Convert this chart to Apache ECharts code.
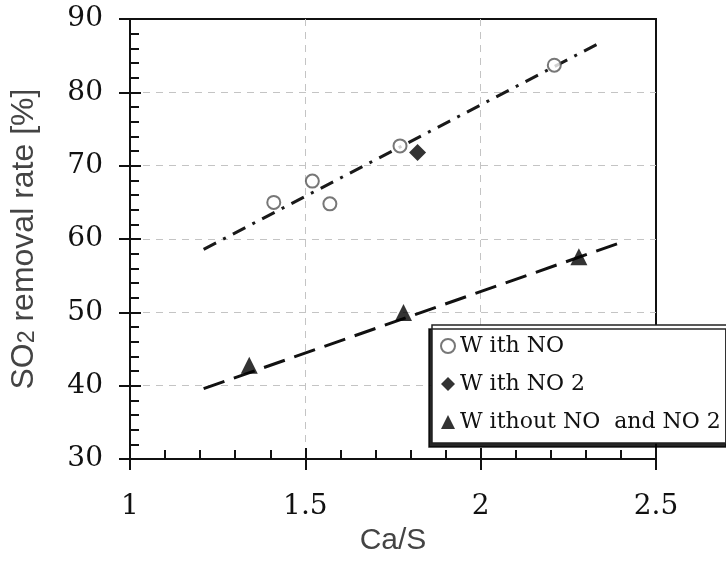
<!DOCTYPE html>
<html>
<head>
<meta charset="utf-8">
<script src="https://cdn.jsdelivr.net/npm/echarts@6/dist/echarts.min.js"></script>
<style>
  html, body { margin: 0; padding: 0; background: #fff; }
  #chart { width: 726px; height: 561px; }
</style>
</head>
<body>
<div id="chart"></div>
<script>
// values
const withNoX = [1.41, 1.52, 1.57, 1.77, 2.21];
const withNoY = [65.0, 67.9, 64.8, 72.7, 83.7];
const withNo2X = [1.82];
const withNo2Y = [71.8];
const withoutX = [1.34, 1.78, 2.28];
const withoutY = [42.8, 50.0, 57.6];
// trend line end points
const fitUpperX = [1.21, 2.35];
const fitUpperY = [58.6, 87.0];
const fitLowerX = [1.21, 2.41];
const fitLowerY = [39.6, 59.7];
const legendNames = ["W ith NO", "W ith NO 2", "W ithout NO  and NO 2"];

const pairs = (xs, ys) => xs.map((x, i) => [x, ys[i]]);

const serif = "DejaVu Serif";
const sans = "Liberation Sans";

const baseX = { type: "value", min: 1, max: 2.5, interval: 0.5, position: "bottom" };
const baseY = { type: "value", min: 30, max: 90, interval: 10, position: "left" };
const axisLine = { show: true, onZero: false, lineStyle: { color: "#111", width: 2 } };
const grid = {
  show: true,
  showMinLine: false,
  showMaxLine: false,
  lineStyle: { color: "#c4c4c4", width: 1, type: [7, 6] }
};

const option = {
  backgroundColor: "#fff",
  animation: false,
  grid: {
    left: 128,
    right: 70,
    top: 19,
    bottom: 97,
    show: true,
    borderColor: "#111",
    borderWidth: 2
  },
  legend: {
    orient: "vertical",
    left: 432,
    top: 325,
    data: legendNames,
    itemWidth: 14,
    itemHeight: 14,
    itemGap: 12,
    padding: [8, 8, 8, 8],
    backgroundColor: "#fff",
    borderColor: "#222",
    borderWidth: 1.5,
    borderRadius: 0,
    shadowColor: "rgba(0,0,0,0.85)",
    shadowBlur: 0,
    shadowOffsetX: -3,
    shadowOffsetY: 4,
    textStyle: {
      fontFamily: serif,
      fontSize: 22,
      lineHeight: 26,
      color: "#111"
    }
  },
  xAxis: [
    Object.assign({}, baseX, {
      name: "Ca/S",
      nameLocation: "middle",
      nameGap: 66,
      nameTextStyle: { fontFamily: sans, fontSize: 30, color: "#444" },
      axisLine: axisLine,
      axisTick: { show: true, inside: false, length: 11, lineStyle: { color: "#111", width: 2 } },
      axisLabel: { margin: 34, fontFamily: serif, fontSize: 28, color: "#111" },
      splitLine: grid
    }),
    Object.assign({}, baseX, {
      axisLine: axisLine,
      axisTick: { show: true, inside: true, length: 11, lineStyle: { color: "#111", width: 2 } },
      minorTick: { show: true, splitNumber: 5, length: 9, lineStyle: { color: "#111", width: 2 } },
      axisLabel: { show: false },
      splitLine: { show: false }
    })
  ],
  yAxis: [
    Object.assign({}, baseY, {
      name: "{a|SO}{b|2}{a| removal rate [%]}",
      nameLocation: "middle",
      nameGap: 90,
      nameTextStyle: {
        rich: {
          a: { fontFamily: sans, fontSize: 32, color: "#444" },
          b: { fontFamily: sans, fontSize: 23, color: "#444", padding: [8, 0, 0, 0] }
        }
      },
      axisLine: axisLine,
      axisTick: { show: true, inside: false, length: 11, lineStyle: { color: "#111", width: 2 } },
      axisLabel: { margin: 27, fontFamily: serif, fontSize: 28, color: "#111" },
      splitLine: grid
    }),
    Object.assign({}, baseY, {
      axisLine: axisLine,
      axisTick: { show: true, inside: true, length: 11, lineStyle: { color: "#111", width: 2 } },
      minorTick: { show: true, splitNumber: 5, length: 9, lineStyle: { color: "#111", width: 2 } },
      axisLabel: { show: false },
      splitLine: { show: false }
    })
  ],
  series: [
    {
      name: "fit upper",
      type: "line",
      data: pairs(fitUpperX, fitUpperY),
      showSymbol: false,
      silent: true,
      z: 2,
      lineStyle: { color: "#1a1a1a", width: 3, type: [14, 8, 3, 8] }
    },
    {
      name: "fit lower",
      type: "line",
      data: pairs(fitLowerX, fitLowerY),
      showSymbol: false,
      silent: true,
      z: 2,
      lineStyle: { color: "#111", width: 3, type: [22, 10] }
    },
    {
      name: legendNames[0],
      type: "scatter",
      data: pairs(withNoX, withNoY),
      symbol: "emptyCircle",
      symbolSize: 13,
      z: 3,
      itemStyle: { color: "#555", borderWidth: 1.6 }
    },
    {
      name: legendNames[1],
      type: "scatter",
      data: pairs(withNo2X, withNo2Y),
      symbol: "diamond",
      symbolSize: 17,
      z: 3,
      itemStyle: { color: "#000" }
    },
    {
      name: legendNames[2],
      type: "scatter",
      data: pairs(withoutX, withoutY),
      symbol: "triangle",
      symbolSize: 17,
      z: 3,
      itemStyle: { color: "#000" }
    }
  ]
};

const myChart = echarts.init(document.getElementById("chart"));
myChart.setOption(option);
</script>
</body>
</html>
